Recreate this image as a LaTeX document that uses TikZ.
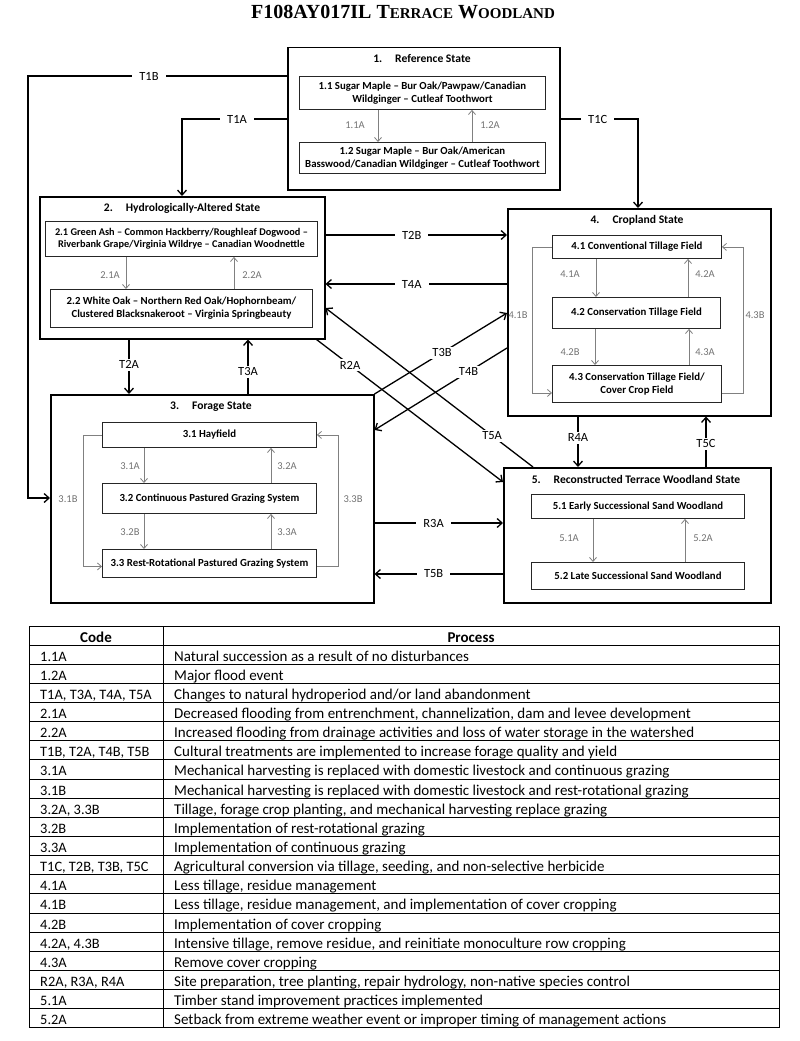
\documentclass[tikz,border=0pt]{standalone}
\usepackage{fontspec}
\setmainfont{Carlito}
\newfontfamily\titlefont{Liberation Serif}
\usetikzlibrary{arrows.meta,calc}
\begin{document}
\begin{tikzpicture}[x=1pt,y=-1pt,
  statebox/.style={draw=black,line width=1.5pt,rectangle,inner sep=0pt,anchor=north west},
  phasebox/.style={draw=black!85,line width=0.9pt,rectangle,inner sep=0pt,anchor=north west,font=\fontsize{10.8}{13}\selectfont\bfseries,align=center},
  stitle/.style={font=\fontsize{11.6}{13}\selectfont\bfseries},
  outer/.style={line width=1.3pt,-{Straight Barb[length=5pt,width=9pt,line width=1.3pt]}},
  inner/.style={draw=black!50,line width=0.8pt,-{Straight Barb[length=4pt,width=7pt,line width=0.8pt]}},
  olbl/.style={font=\fontsize{12.5}{14}\selectfont,fill=white,inner xsep=7pt,inner ysep=2pt},
  ilbl/.style={font=\fontsize{10.5}{12}\selectfont,text=black!55},
  tcell/.style={font=\fontsize{15}{16}\selectfont,anchor=base west,inner sep=0pt},
  ccell/.style={font=\fontsize{14.4}{16}\selectfont,anchor=base west,inner sep=0pt},
  thead/.style={font=\fontsize{15}{16}\selectfont\bfseries,anchor=base,inner sep=0pt},
]
\fill[white] (0,0) rectangle (800,1041);
\useasboundingbox (0,0) rectangle (800,1041);

% title
\node (title) at (403,12) {\titlefont\bfseries\fontsize{20}{22}\selectfont F108AY017IL T{\fontsize{15}{17}\selectfont ERRACE} W{\fontsize{15}{17}\selectfont OODLAND}};

% ---------- State 1
\node[statebox,minimum width=272pt,minimum height=142pt] (s1) at (287,47) {};
\node[stitle] (s1t) at (422,59) {1.\hspace{13pt}Reference State};
\node[phasebox,minimum width=246pt,minimum height=33pt] (p11) at (299,76) {1.1 Sugar Maple – Bur Oak/Pawpaw/Canadian\\Wildginger – Cutleaf Toothwort};
\node[phasebox,minimum width=246pt,minimum height=31pt] (p12) at (299,142) {1.2 Sugar Maple – Bur Oak/American\\Basswood/Canadian Wildginger – Cutleaf Toothwort};
\draw[inner] ([xshift=79pt]p11.south west) -- ([xshift=79pt]p12.north west);
\draw[inner] ([xshift=173pt]p12.north west) -- ([xshift=173pt]p11.south west);
\node[ilbl] (l11a) at (355,125) {1.1A};
\node[ilbl] (l12a) at (490,125) {1.2A};

% ---------- State 2
\node[statebox,minimum width=285pt,minimum height=142pt] (s2) at (39,196) {};
\node[stitle] (s2t) at (182,208) {2.\hspace{13pt}Hydrologically-Altered State};
\node[phasebox,minimum width=272pt,minimum height=35pt,font=\fontsize{10.3}{12.6}\selectfont\bfseries] (p21) at (45,221) {2.1 Green Ash – Common Hackberry/Roughleaf Dogwood –\\Riverbank Grape/Virginia Wildrye – Canadian Woodnettle};
\node[phasebox,minimum width=262pt,minimum height=38pt] (p22) at (50,289) {2.2 White Oak – Northern Red Oak/Hophornbeam/\\Clustered Blacksnakeroot – Virginia Springbeauty};
\draw[inner] ([xshift=81pt]p21.south west) -- ([xshift=76pt]p22.north west);
\draw[inner] ([xshift=184pt]p22.north west) -- ([xshift=189pt]p21.south west);
\node[ilbl] (l21a) at (110,275) {2.1A};
\node[ilbl] (l22a) at (252,275) {2.2A};

% ---------- State 3
\node[statebox,minimum width=323pt,minimum height=208pt] (s3) at (50,394) {};
\node[stitle] (s3t) at (211,407) {3.\hspace{13pt}Forage State};
\node[phasebox,minimum width=214pt,minimum height=25pt] (p31) at (102,422) {3.1 Hayfield};
\node[phasebox,minimum width=214pt,minimum height=30pt] (p32) at (102,483) {3.2 Continuous Pastured Grazing System};
\node[phasebox,minimum width=214pt,minimum height=28pt] (p33) at (102,549) {3.3 Rest-Rotational Pastured Grazing System};
\draw[inner] ([xshift=42pt]p31.south west) -- ([xshift=42pt]p32.north west);
\draw[inner] ([xshift=169pt]p32.north west) -- ([xshift=169pt]p31.south west);
\draw[inner] ([xshift=42pt]p32.south west) -- ([xshift=42pt]p33.north west);
\draw[inner] ([xshift=169pt]p33.north west) -- ([xshift=169pt]p32.south west);
\draw[inner] (p31.west) -- ++(-19,0) |- ([yshift=-3pt]p33.west);
\draw[inner] ([yshift=-3pt]p33.east) -- ++(21,0) |- (p31.east);
\node[ilbl] (l31a) at (130,466) {3.1A};
\node[ilbl] (l32a) at (287,466) {3.2A};
\node[ilbl] (l32b) at (130,532) {3.2B};
\node[ilbl] (l33a) at (287,532) {3.3A};
\node[ilbl] (l31b) at (68,499) {3.1B};
\node[ilbl] (l33b) at (353,499) {3.3B};

% ---------- State 4
\node[statebox,minimum width=263pt,minimum height=207pt] (s4) at (507,208) {};
\node[stitle] (s4t) at (637,220) {4.\hspace{13pt}Cropland State};
\node[phasebox,minimum width=169pt,minimum height=23pt] (p41) at (552,235) {4.1 Conventional Tillage Field};
\node[phasebox,minimum width=168pt,minimum height=31pt] (p42) at (552,297) {4.2 Conservation Tillage Field};
\node[phasebox,minimum width=169pt,minimum height=37pt] (p43) at (552,365) {4.3 Conservation Tillage Field/\\Cover Crop Field};
\draw[inner] ([xshift=44pt]p41.south west) -- ([xshift=44pt]p42.north west);
\draw[inner] ([xshift=136pt]p42.north west) -- ([xshift=136pt]p41.south west);
\draw[inner] ([xshift=43pt]p42.south west) -- ([xshift=43pt]p43.north west);
\draw[inner] ([xshift=137pt]p43.north west) -- ([xshift=137pt]p42.south west);
\draw[inner] (p41.west) -- ++(-20,0) |- ([yshift=-9pt]p43.west);
\draw[inner] ([yshift=-9pt]p43.east) -- ++(21,0) |- (p41.east);
\node[ilbl] (l41a) at (570,274) {4.1A};
\node[ilbl] (l42a) at (705,274) {4.2A};
\node[ilbl] (l42b) at (570,352) {4.2B};
\node[ilbl] (l43a) at (705,352) {4.3A};
\node[ilbl] (l41b) at (518,315) {4.1B};
\node[ilbl] (l43b) at (755,315) {4.3B};

% ---------- State 5
\node[statebox,minimum width=267pt,minimum height=135pt] (s5) at (503,467) {};
\node[stitle] (s5t) at (636,479) {5.\hspace{13pt}Reconstructed Terrace Woodland State};
\node[phasebox,minimum width=213pt,minimum height=24pt] (p51) at (531,494) {5.1 Early Successional Sand Woodland};
\node[phasebox,minimum width=213pt,minimum height=27pt] (p52) at (531,562) {5.2 Late Successional Sand Woodland};
\draw[inner] ([xshift=62pt]p51.south west) -- ([xshift=62pt]p52.north west);
\draw[inner] ([xshift=154pt]p52.north west) -- ([xshift=154pt]p51.south west);
\node[ilbl] (l51a) at (569,538) {5.1A};
\node[ilbl] (l52a) at (703,538) {5.2A};

% ---------- Transitions
\draw[outer] ([yshift=-29pt]s1.north west) -- node[olbl,pos=0.533]{T1B} (28,76) |- ([yshift=-104pt]s3.north west);
\draw[outer] ([yshift=-72pt]s1.north west) -| node[olbl,pos=0.238]{T1A} ([xshift=143pt]s2.north west);
\draw[outer] ([yshift=-72pt]s1.north east) -| node[olbl,pos=0.24]{T1C} ([xshift=131pt]s4.north west);
\draw[outer] ([yshift=-39pt]s2.north east) -- node[olbl,pos=0.475]{T2B} ([yshift=-27pt]s4.north west);
\draw[outer] ([yshift=-76pt]s4.north west) -- node[olbl,pos=0.525]{T4A} ([yshift=-88pt]s2.north east);
\draw[outer] ([xshift=90pt]s2.south west) -- node[olbl,pos=0.46]{T2A} ([xshift=79pt]s3.north west);
\draw[outer] ([xshift=198pt]s3.north west) -- node[olbl,pos=0.41]{T3A} ([xshift=209pt]s2.south west);
\draw[outer] ([xshift=-9pt]s2.south east) -- node[olbl,pos=0.18]{R2A} ([yshift=-15pt]s5.north west);
\draw[outer] ([xshift=30pt]s5.north west) -- node[olbl,pos=0.197]{T5A} ([yshift=-112pt]s2.north east);
\draw[outer] (s3.north east) -- node[olbl,pos=0.51]{T3B} ([yshift=-105pt]s4.north west);
\draw[outer] ([yshift=-140pt]s4.north west) -- node[olbl,pos=0.29]{T4B} ([yshift=-36pt]s3.north east);
\draw[outer] ([yshift=-129pt]s3.north east) -- node[olbl,pos=0.46]{R3A} ([yshift=-56pt]s5.north west);
\draw[outer] ([yshift=-107pt]s5.north west) -- node[olbl,pos=0.54]{T5B} ([yshift=-180pt]s3.north east);
\draw[outer] ([xshift=71pt]s4.south west) -- node[olbl,pos=0.42]{R4A} ([xshift=75pt]s5.north west);
\draw[outer] ([xshift=203pt]s5.north west) -- node[olbl,pos=0.46]{T5C} ([xshift=199pt]s4.south west);

% ---------- Table
\draw[line width=0.9pt] (29,626) rectangle (779,1027.86);
\draw[line width=0.9pt] (163,626) -- (163,1027.86);
\foreach \i in {0,...,19} \draw[line width=0.9pt] (29,{645+19.143*\i}) -- (779,{645+19.143*\i});
\node[thead] (hcode) at (96,642) {Code};
\node[thead] (hproc) at (471,642) {Process};
\foreach \c/\p [count=\i] in {
 {1.1A}/{Natural succession as a result of no disturbances},
 {1.2A}/{Major flood event},
 {T1A, T3A, T4A, T5A}/{Changes to natural hydroperiod and/or land abandonment},
 {2.1A}/{Decreased flooding from entrenchment, channelization, dam and levee development},
 {2.2A}/{Increased flooding from drainage activities and loss of water storage in the watershed},
 {T1B, T2A, T4B, T5B}/{Cultural treatments are implemented to increase forage quality and yield},
 {3.1A}/{Mechanical harvesting is replaced with domestic livestock and continuous grazing},
 {3.1B}/{Mechanical harvesting is replaced with domestic livestock and rest-rotational grazing},
 {3.2A, 3.3B}/{Tillage, forage crop planting, and mechanical harvesting replace grazing},
 {3.2B}/{Implementation of rest-rotational grazing},
 {3.3A}/{Implementation of continuous grazing},
 {T1C, T2B, T3B, T5C}/{Agricultural conversion via tillage, seeding, and non-selective herbicide},
 {4.1A}/{Less tillage, residue management},
 {4.1B}/{Less tillage, residue management, and implementation of cover cropping},
 {4.2B}/{Implementation of cover cropping},
 {4.2A, 4.3B}/{Intensive tillage, remove residue, and reinitiate monoculture row cropping},
 {4.3A}/{Remove cover cropping},
 {R2A, R3A, R4A}/{Site preparation, tree planting, repair hydrology, non-native species control},
 {5.1A}/{Timber stand improvement practices implemented},
 {5.2A}/{Setback from extreme weather event or improper timing of management actions}} {
  \node[ccell] (c\i) at (40,{645+19.143*(\i-1)+16.1}) {\c};
  \node[tcell] (p\i) at (174,{645+19.143*(\i-1)+16.1}) {\p};
}
\end{tikzpicture}
\end{document}
